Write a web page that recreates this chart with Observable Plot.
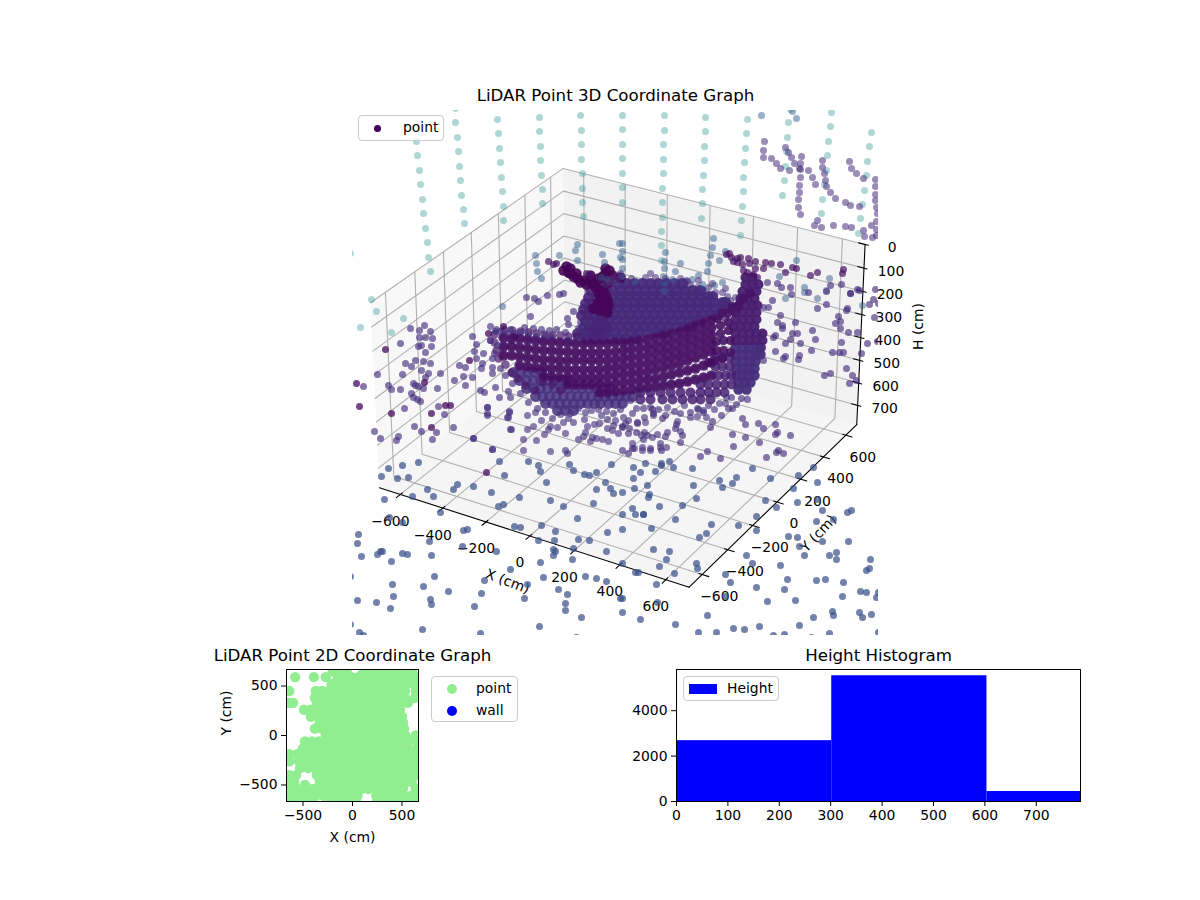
<!DOCTYPE html>
<html><head><meta charset="utf-8">
<script src="https://cdn.jsdelivr.net/npm/d3@7"></script>
<script src="https://cdn.jsdelivr.net/npm/@observablehq/plot@0.6"></script>
<style>
html,body{margin:0;padding:0;background:#fff;overflow:hidden}
#fig{position:relative;width:1200px;height:900px;font-family:"DejaVu Sans",sans-serif;font-size:13.9px;color:#000}
#fig>svg,#fig>div.p{position:absolute}
.lg{position:absolute;box-sizing:border-box;background:rgba(255,255,255,.8);border:1px solid #ccc;border-radius:4px}
.lg i{position:absolute;display:block}
.lg b{position:absolute;font-weight:normal;white-space:nowrap;line-height:16px}
</style></head><body><div id="fig"></div>
<script>
// ---------- histogram ----------
const histEdges = [0, 302, 604, 786];
const histCounts = [2680, 5540, 440];
const histXTicks = [0,100,200,300,400,500,600,700];
const histYTicks = [0,2000,4000];

// ---------- 2D scatter: rows of [Y, X values] in cm ----------
const rows2D = [
[650,[-200,-130,-60,110,180,250,320,390,460,530,600]],
[590,[-580,-390,-270,-150,-80,-10,60,130,200,270,340,410,480,550,640]],
[520,[-210,-140,-70,0,70,140,210,280,350,420,490,540,620]],
[450,[-640,-370,-310,-240,-170,-100,-30,40,110,180,250,320,390,460,530,640]],
[380,[-380,-310,-240,-170,-100,-30,40,110,180,250,320,390,460,530,630]],
[330,[-640,-600,-360,-290,-220,-150,-80,-10,60,130,200,270,340,410,480,560]],
[260,[-490,-420,-350,-280,-210,-140,-70,0,70,140,210,280,350,420,480]],
[190,[-420,-350,-280,-210,-140,-70,0,70,140,210,280,350,420,500]],
[130,[-330,-260,-190,-120,-50,20,90,160,230,300,370,440,510]],
[70,[-380,-310,-240,-170,-100,-30,40,110,180,250,320,390,460,520]],
[0,[-270,-200,-130,-60,10,80,150,220,290,360,430,500,535,640]],
[-60,[-480,-410,-340,-270,-200,-130,-60,10,80,150,220,290,360,430,500,570,660]],
[-130,[-500,-430,-360,-290,-220,-150,-80,-10,60,130,200,270,340,410,480,550,650]],
[-190,[-640,-560,-490,-420,-350,-280,-210,-140,-70,0,70,140,210,280,350,420,490,560,630]],
[-260,[-640,-540,-470,-400,-330,-260,-190,-120,-50,20,90,160,230,300,370,440,510,580,650]],
[-330,[-530,-450,-380,-310,-240,-170,-100,-30,40,110,180,250,320,390,460,530,600,660]],
[-400,[-640,-570,-360,-290,-220,-150,-80,-10,60,130,200,270,340,410,480,550,620,660]],
[-470,[-640,-590,-330,-300,-230,-160,-90,-20,50,120,190,260,330,400,470,540,600]],
[-500,[-480]],
[-540,[-650,-560,-480,-400,-330,-260,-190,-120,-50,20,90,160,230,300,370,440,510,640]],
[-610,[-640,-570,-500,-430,-370,-290,-220,-150,-80,-10,50,240,310,380,450,520,590,650]],
[-660,[-640,-570,-500,-430,-220,-150,-80,-10,40,250,320,390,460,530,600,660]]
];
const ticks2D = [-500,0,500];

// ---------- 3D frame ----------
const xTicks3D = [-600,-400,-200,0,200,400,600];
const yTicks3D = [-600,-400,-200,0,200,400,600];
const hTicks3D = [0,100,200,300,400,500,600,700];
const xLim3D = [-700,700], yLim3D = [-700,700], hLim3D = [786,0];

// ---------- 3D cloud, readings on the picture plane (page pixels) ----------
const tealColumns = [
[416,141],[417,155],[419,170],[420,184],[422,199],[423,213],[425,228],[427,242],[428,257],[430,271],
[455,108],[455,122],[457,137],[458,151],[459,166],[460,180],[461,195],[463,209],[464,223],
[497,119],[498,133],[499,148],[500,162],[501,177],[502,191],[503,206],[503,220],
[539,117],[539,131],[540,146],[540,160],[541,175],[542,189],[542,203],
[580,115],[581,130],[581,144],[581,159],[582,173],[582,188],[582,202],[583,216],
[622,115],[622,129],[622,144],[622,158],[622,173],[622,187],[622,202],
[664,115],[664,130],[663,144],[663,159],[663,173],[662,188],[662,202],[662,217],[661,231],[661,245],[661,260],
[705,117],[705,131],[704,146],[704,160],[703,175],[702,189],[702,203],[701,218],
[747,119],[746,133],[745,148],[744,162],[743,177],[743,191],[742,206],[741,220],[740,235],
[790,109],[788,122],[787,137],[786,151],[785,166],[784,180],[782,195],
[831,112],[830,126],[828,141],[827,155],[826,170],[824,184],[822,199],[821,213],
[871,132],[869,146],[867,161],[866,175],[864,190],[862,204],[860,218],[858,233],
[350,253],[371,299],[376,311],[403,318],[391,332],[360,327]];
const steelUpper = [
[577,244],[575,250],[559,255],[535,255],[602,254],[577,260],[536,263],[604,262],[537,271],[541,278],[619,243],[620,257],
[622,243],[622,251],[622,259],[622,268],[665,252],[664,261],[664,268],[663,276],[680,263],[675,271],[713,238],[712,247],
[710,255],[708,263],[707,271],[719,260],[698,275],[796,260],[725,251],[829,278],[779,276],[761,115],[792,111],[796,118],
[622,276],[664,283],[664,291],[601,277],[607,279],[635,281],[702,284],[692,279],[672,279],[714,285],[722,282],[502,306],
[785,298],[804,292],[817,298],[826,290],[804,287],[862,305]];
const purpleStrands = [
[764,141],[763,150],[763,157],[771,158],[776,163],[780,168],[789,170],[785,147],[788,152],[791,157],[794,163],[799,168],
[801,156],[800,163],[800,169],[800,177],[799,185],[799,192],[798,199],[798,207],[800,214],[808,170],[812,177],[815,184],
[822,160],[822,167],[824,173],[825,180],[826,186],[830,192],[835,198],[845,202],[850,205],[859,206],[849,161],[851,168],
[856,173],[863,178],[875,179],[875,186],[875,194],[875,200],[876,207],[877,213],[876,221],[817,220],[814,225],[821,227],
[833,225],[845,226],[851,227],[863,230],[864,236],[871,225],[876,229],[876,235],[872,237]];
const rimPurple = [
[726,254],[731,257],[740,257],[748,258],[755,261],[765,262],[771,263],[780,264],[785,272],[792,267],[796,268],[810,275],
[817,272],[842,273],[843,269],[733,261],[737,262],[742,264],[743,270],[747,272],[753,274],[757,277],[763,268],[755,268],[749,263],
[548,261],[553,264],[556,263],[586,273],[590,276],[729,253],[737,258]];
const leftScatter = [
[410,328],[424,325],[419,330],[430,331],[419,337],[425,337],[432,338],[400,343],[418,346],[421,345],[431,346],[425,352],
[415,360],[405,363],[411,366],[423,361],[430,363],[421,370],[428,373],[425,377],[402,374],[440,373],[413,383],[418,386],
[415,385],[423,388],[388,385],[391,389],[400,389],[437,388],[411,393],[413,397],[417,399],[420,401],[363,386],[404,408],
[438,406],[444,414],[421,431],[374,431],[380,438],[398,436],[396,440],[414,426],[436,432],[432,439],[453,427],[473,438],
[492,449],[377,374],[495,331],[472,336],[476,344],[474,351],[490,326],[496,329],[510,329],[514,333],[490,340],[490,340],
[476,358],[483,353],[494,353],[459,365],[465,367],[481,368],[482,363],[492,367],[492,373],[463,376],[472,377],[454,380],
[465,385],[480,390],[484,392],[495,387],[508,391],[499,397],[510,397],[487,407],[487,415],[509,412],[507,417],[510,429],
[526,297],[534,298],[538,301],[547,295],[559,294],[563,293],[573,311],[567,318],[580,322],[587,323],[578,328],[568,324],
[565,332],[568,340],[578,338],[581,330],[586,333],[530,316],
[500,331],[505,333],[520,332],[528,334],[536,336],[545,335],[551,337],[497,345],[492,358],[500,368],[505,375],[512,383],[520,393],[528,402],[537,408],[545,412],
[556,329],[549,330],[541,329],[533,328],[524,327]];
const dark3D = [[385,349],[356,383],[359,406],[391,413],[445,405],[450,405],[431,413],[431,427],[486,472],[424,382],[469,360],[488,333],[503,326],[514,336]];
const underBand = [
[527,415],[535,412],[541,420],[533,426],[552,418],[550,426],[557,427],[544,434],[548,429],[536,440],[523,439],[511,429],
[527,429],[508,417],[509,411],[487,407],[487,413],[473,438],[492,449],[523,450],[550,451],[565,450],[567,453],[565,433],
[578,439],[585,432],[583,436],[590,441],[592,437],[596,438],[602,439],[608,441],[587,426],[594,424],[599,423],[607,419],
[613,413],[623,417],[632,413],[573,422],[568,418],[563,422],[578,408],[585,412],[591,410],[598,409],[607,428],[613,425],
[622,426],[629,428],[637,423],[645,422],[653,415],[662,418],[644,432],[641,435],[652,437],[657,434],[660,443],[666,447],
[680,413],[698,409],[703,410],[677,421],[680,431],[642,447],[650,450],[660,447],[632,443],[634,448],[642,450],
[606,411],[615,420],[620,409],[628,420],[636,408],[644,417],[650,407],[658,409],[667,407],[674,411],[684,405],[690,417],
[697,416],[706,417],[714,409],[719,403],[725,403],[736,404],[560,414],[570,413],[584,419],[601,415],[612,430],[618,433]];
const rightScatter = [
[767,282],[777,283],[781,287],[790,287],[791,294],[808,292],[826,291],[830,285],[841,284],[850,293],[850,293],[859,290],
[857,289],[875,289],[873,299],[869,304],[878,303],[772,300],[768,307],[763,307],[780,315],[782,328],[777,322],[782,325],
[795,322],[812,330],[826,304],[817,308],[847,308],[846,310],[838,316],[835,323],[840,321],[840,328],[848,332],[857,332],
[874,317],[867,343],[877,341],[775,335],[773,337],[797,333],[792,333],[790,339],[785,343],[815,339],[800,343],[841,342],
[775,351],[783,358],[785,356],[799,355],[798,359],[811,350],[832,352],[839,352],[843,352],[861,353],[846,368],[830,373],
[824,375],[852,375],[856,380],[849,383],[762,347],[763,360],
[726,397],[731,397],[741,398],[747,399],[708,405],[703,412],[697,408],[690,412],[728,408],[721,415],[732,408],[712,421],
[710,427],[742,418],[745,424],[758,423],[763,428],[775,424],[777,432],[775,434],[790,435],[732,434],[745,437],[759,442],
[733,446],[776,452],[778,450],[783,453],[766,457],[707,451],[700,456],[720,458],[680,442],[682,435],[667,432],[665,436],
[650,448],[661,450],[632,448],[628,453],[622,450],[643,439],[628,433],[636,432],[647,435],[676,424],[675,428],[637,422],
[653,413],[665,415],[643,408],[652,409],[625,423],[622,427],[630,400]];
const floorScatter = [
[381,476],[388,468],[402,465],[418,462],[397,478],[408,477],[427,489],[412,496],[433,496],[384,499],[440,512],[453,489],
[457,484],[473,486],[491,492],[504,475],[499,461],[528,461],[538,465],[540,471],[569,464],[573,470],[546,482],[584,474],
[589,475],[596,472],[611,464],[605,482],[596,489],[610,488],[613,493],[593,503],[519,497],[550,500],[563,506],[498,506],
[503,504],[577,518],[514,526],[520,527],[541,525],[555,531],[538,540],[554,540],[578,539],[589,540],[607,532],[606,551],
[553,549],[555,551],[553,555],[573,548],[572,559],[540,562],[402,522],[389,517],[358,534],[357,543],[361,556],[377,554],
[380,551],[382,551],[391,561],[402,553],[407,554],[431,555],[429,541],[463,530],[467,529],[462,546],[496,551],[350,576],
[392,584],[434,576],[423,586],[448,591],[357,600],[376,602],[393,596],[390,608],[430,599],[431,604],[474,606],[481,593],
[484,580],[510,569],[543,577],[527,584],[524,598],[558,589],[567,594],[565,603],[565,610],[585,576],[596,578],[606,581],
[581,617],[539,626],[422,629],[480,633],[359,632],[363,635],[350,624],[576,637],[620,598],
[633,467],[645,463],[661,463],[661,465],[669,461],[673,467],[692,468],[640,472],[655,471],[633,478],[647,485],[634,488],
[622,492],[693,485],[719,480],[732,483],[736,477],[722,487],[770,478],[752,468],[798,475],[813,467],[817,482],[793,488],
[797,502],[765,500],[776,507],[817,499],[822,510],[847,512],[851,510],[833,519],[816,521],[649,494],[648,497],[696,498],
[682,505],[659,506],[632,508],[622,514],[635,514],[643,514],[643,514],[675,519],[622,529],[651,528],[711,524],[738,525],
[706,533],[699,537],[756,516],[756,530],[788,536],[797,537],[799,546],[822,541],[848,541],[804,555],[836,552],[829,555],
[836,559],[870,559],[866,570],[869,568],[653,549],[669,551],[666,559],[659,566],[674,573],[696,563],[697,568],[622,563],
[635,572],[638,572],[656,584],[725,574],[730,582],[746,555],[752,563],[780,565],[756,587],[784,589],[787,579],[816,580],
[825,579],[843,582],[860,591],[866,592],[842,596],[878,592],[876,597],[795,600],[767,601],[725,596],[657,602],[622,598],
[622,612],[640,619],[675,624],[707,615],[698,632],[716,632],[733,628],[744,629],[759,626],[799,625],[813,617],[832,611],
[833,615],[859,612],[862,617],[871,614],[773,635],[784,634],[811,637],[829,633],[878,632]];

// dense wall behind the band
const domeRows = [
[283,[618,626,634,642,650,658,666,674,682]],
[290,[606,612,620,628,636,644,652,660,668,676,684,692,700]],
[296,[606,612,620,628,636,644,652,660,668,676,684,692,700,708,712]],
[302,[604,610,618,626,634,642,650,658,666,674,682,690,698,706,714,722,725]],
[308,[602,610,618,626,634,642,650,658,666,674,682,690,698,706,714,722,730]],
[314,[600,606,614,622,630,638,646,654,662,670,678,686,694,702,710,718]],
[320,[600,608,616,624,632,640,648,656,664,672,680,688,696,700]],
[326,[596,604,612,620,628,636,644,652,660,668,676,684,690]],
[332,[590,598,606,614,622,630,638,646,654,662,665]],
[338,[585,593,601,609,617,625,635]]];
const domeRim = [
[617,279],[631,278],[645,277],[655,277],[665,278],[680,278],[686,280],[690,284],[697,287],[703,290],[708,287],[715,292],
[722,292],[727,296],[730,300],[735,297],[725,288],[687,281],[611,281],[605,284],[698,280],[712,283],[620,273],[650,273]];
const bodyRows = [
[290,[590,598]],[297,[588,596,604]],[303,[585,591,598]],[309,[583,589,595]],[315,[581,587,593,600]],[321,[585,591,597,603]],
[327,[583,589,595,601,607]],[333,[577,583,589,595,601]]];
const bandX = [503,511,519,527,535,543,551,559,567,575,583,591,599,607,615,623,631,639,647,655,663,671,679,687,695,703,711];
const bandRows = [
[337,338,338,339,340,341,341,342,342,343,343,343,343,343,342,342,341,340,339,337,335,333,331,328,325,322,319],
[346,346,347,348,349,350,350,351,351,352,352,352,352,352,351,350,349,348,347,345,343,341,339,336,333,330,327],
[355,355,356,357,358,359,359,360,360,360,360,360,360,360,359,358,357,356,355,353,351,349,347,344,341,338,335],
[null,null,365,366,367,367,368,368,369,369,369,369,369,368,367,366,365,364,363,361,359,357,355,352,349,346,343],
[null,null,null,null,null,376,376,377,377,377,377,377,377,376,375,374,373,372,371,369,367,365,363,360,357,354,351],
[null,null,null,null,null,null,null,null,384,384,384,384,384,384,383,382,381,380,379,378,376,374,372,370,368,365,362],
[null,null,null,null,null,null,null,null,null,null,null,null,392,392,391,390,389,388,387,386,385,384,383,381,379,377,375]];
const bandLeftEdge = [
[494,334],[494,342],[496,350],[498,358],[504,330],[512,330],[520,331],[528,332],[536,333],[544,334],[552,335],[560,335],
[568,336],[576,336],[505,364],[511,372],[517,378],[525,385],[535,390],[542,382],[552,384],[560,390],[735,312],[725,318]];
const lowerRightRows = [
[357,[715,722,729]],[366,[715,722,729]],[375,[718,725,731]],
[384,[700,708,716,724,731]],[392,[640,650,660,670,680,690,700,708,716,724]],[399,[640,650,662,672,682,692,700,710]]];
const cloudRows = [
[372,[513,520,527,534,541]],
[380,[519,526,533,540,547,554,561,568]],
[388,[526,533,540,547,554,561,568,575,582,589,596,603,610]],
[396,[535,542,549,556,563,570,577,584,591,598,605,612,619,625,632]],
[403,[545,552,559,566,573,580,587,594,600,608,615,622]],
[410,[557,565,573]]];
const columnRows = [
[277,[745,752]],[284,[745,752,758]],[291,[742,749,756]],[298,[740,747,754]],[305,[738,745,752,757]],
[312,[735,742,749,756]],[319,[735,742,749,756]],[326,[733,740,747,754]],[333,[735,742,749,756,762]],[340,[735,742,749,756,762]]];
const columnLowRows = [
[347,[735,742,749,756,760]],[354,[735,742,749,756,760]],[361,[735,742,749,755]],[368,[736,742,748,754]],
[375,[736,742,748,754]],[382,[738,744,750]],[389,[738,746]]];
const armPoints = [
[717,318],[727,313],[737,307],[743,298],[750,293],[722,312],[732,306],[740,300],[720,325],[728,322],[720,333],[728,330],
[716,341],[723,340],[730,340],[716,350],[723,350],[730,352],[722,358],[715,360],[708,362]];
const capPoints = [
[563,270],[570,273],[577,278],[583,280],[590,280],[598,278],[605,273],[609,270],[612,275],[620,277],[608,282],[602,285],
[595,287],[603,290],[598,293],[605,295],[600,298],[607,300],[597,303],[603,305],[608,305],[593,308],[600,310],[607,312],
[566,266],[568,272],[573,276],[586,284],[580,282],[593,283],[570,268],[576,273],[605,268],[602,276],[590,275]];

const shade = {teal:.5, steel:.3, blue:.22, mid:.14, purple:.08, dark:.0};
const rowsToPoints = rows => rows.flatMap(([y,xs]) => xs.map(x => [x,y]));
const bandPoints = bandRows.flatMap(r => r.flatMap((y,i) => y==null ? [] : [[bandX[i],y]]));
const groups = [
  [tealColumns, shade.teal, .36, 3.5],
  [steelUpper, shade.steel, .5, 3.5],
  [domeRim, shade.mid, .55, 3.5],
  [rowsToPoints(domeRows), .12, .95, 5.6],
  [rowsToPoints(bodyRows), .1, .9, 5.4],
  [rowsToPoints(cloudRows), .14, .85, 5.4],
  [purpleStrands, shade.mid-.01, .55, 3.5],
  [rimPurple, shade.purple-.03, .7, 3.5],
  [leftScatter, shade.mid, .65, 3.5],
  [rightScatter, shade.mid-.01, .65, 3.5],
  [underBand, shade.mid, .62, 3.5],
  [floorScatter, shade.blue+.03, .72, 3.5],
  [rowsToPoints(columnLowRows), .13, .95, 5.2],
  [rowsToPoints(columnRows), shade.purple, .95, 5],
  [rowsToPoints(lowerRightRows), .09, .85, 5],
  [armPoints, shade.purple-.03, .9, 4.6],
  [bandLeftEdge, .07, .7, 4.2],
  [bandPoints, .06, .9, 5.2],
  [bandPoints, .0, .4, 3.5],
  [capPoints, shade.dark+.01, .9, 5.2],
  [dark3D, shade.dark+.03, .75, 3.5]
];
const cloud = groups.flatMap(([pts,t,a,r]) => pts.map(([px,py]) => ({px,py,t,a,r})));

// ---------- camera ----------
const rad = Math.PI/180, el = 29*rad, az = -59.5*rad;
const box = [1.2476,1.2476,0.735];
const eyeDir = [Math.cos(el)*Math.cos(az), Math.cos(el)*Math.sin(az), Math.sin(el)];
const centre = box.map(b=>b/2), eye = centre.map((c,i)=>c+10*eyeDir[i]);
const cross = (a,b)=>[a[1]*b[2]-a[2]*b[1],a[2]*b[0]-a[0]*b[2],a[0]*b[1]-a[1]*b[0]];
const dot3 = (a,b)=>a[0]*b[0]+a[1]*b[1]+a[2]*b[2];
let uu = cross([0,0,1],eyeDir); const ul=Math.hypot(...uu); uu=uu.map(v=>v/ul);
const vv = cross(eyeDir,uu);
function project(X,Y,H){
  const p=[(X-xLim3D[0])/(xLim3D[1]-xLim3D[0])*box[0],(Y-yLim3D[0])/(yLim3D[1]-yLim3D[0])*box[1],(H-hLim3D[0])/(hLim3D[1]-hLim3D[0])*box[2]];
  const d=p.map((c,i)=>c-eye[i]), w=-dot3(d,eyeDir);
  return [352+(dot3(d,uu)/w+.095)/.185*526, 635-(dot3(d,vv)/w+.095)/.185*525];
}
const [x0,x1]=xLim3D,[y0,y1]=yLim3D,[hB,hT]=hLim3D;
const panes = [
 {f:"rgba(242,242,242,.5)",c:[[x0,y0,hB],[x0,y1,hB],[x0,y1,hT],[x0,y0,hT]]},
 {f:"rgba(230,230,230,.5)",c:[[x0,y1,hB],[x1,y1,hB],[x1,y1,hT],[x0,y1,hT]]},
 {f:"rgba(236,236,236,.5)",c:[[x0,y0,hB],[x1,y0,hB],[x1,y1,hB],[x0,y1,hB]]}
].flatMap((p,i)=>p.c.map(c=>{const [px,py]=project(...c);return{px,py,i,f:p.f};}));
const gridLines = [
 ...xTicks3D.map(t=>[[t,y0,hB],[t,y1,hB],[t,y1,hT]]),
 ...yTicks3D.map(t=>[[x0,t,hT],[x0,t,hB],[x1,t,hB]]),
 ...hTicks3D.map(t=>[[x0,y0,t],[x0,y1,t],[x1,y1,t]])
].flatMap((l,i)=>l.map(c=>{const [px,py]=project(...c);return{px,py,i};}));
const axisLines = [[[x0,y0,hB],[x1,y0,hB]],[[x1,y0,hB],[x1,y1,hB]],[[x1,y1,hB],[x1,y1,hT]]]
 .flatMap((l,i)=>l.map(c=>{const [px,py]=project(...c);return{px,py,i};}));
const tickMarks = [
 ...xTicks3D.map(t=>[[t,y0-28,hB],[t,y0+14,hB]]),
 ...yTicks3D.map(t=>[[x1+28,t,hB],[x1-14,t,hB]]),
 ...hTicks3D.map(t=>[[x1-28,y1,t],[x1+14,y1,t]])
].flatMap((l,i)=>l.map(c=>{const [px,py]=project(...c);return{px,py,i};}));
const fmt = d3.format("d");
const tickLabels = [
 ...xTicks3D.map(t=>{const [a,b]=project(t,y0,hB);return{px:a-10,py:b+27,s:fmt(t)}}),
 ...yTicks3D.map(t=>{const [a,b]=project(x1,t,hB);return{px:a+17,py:b+22,s:fmt(t)}}),
 ...hTicks3D.map(t=>{const [a,b]=project(x1,y1,t);return{px:a+27,py:b+3,s:fmt(t)}})
];
const fig = document.getElementById("fig");
const FONT = '"DejaVu Sans",sans-serif';

// ---------- main 3D panel ----------
const main = Plot.plot({
  width:1200,height:900,marginLeft:352,marginRight:322,marginTop:110,marginBottom:265,
  style:{fontFamily:FONT,background:"transparent",overflow:"visible"},
  x:{domain:[352,878],axis:null}, y:{domain:[635,110],axis:null},
  color:{type:"linear",scheme:"viridis",domain:[0,1]},
  r:{type:"identity"},
  marks:[
    Plot.line(panes,{x:"px",y:"py",z:"i",fill:"f",stroke:"none",curve:"linear-closed"}),
    Plot.line(gridLines,{x:"px",y:"py",z:"i",stroke:"#b0b0b0",strokeWidth:1.1}),
    Plot.line(axisLines,{x:"px",y:"py",z:"i",stroke:"#000",strokeWidth:1.1}),
    Plot.line(tickMarks,{x:"px",y:"py",z:"i",stroke:"#000",strokeWidth:1.1}),
    Plot.text(tickLabels,{x:"px",y:"py",text:"s",fontSize:13.9,fill:"#000"}),
    Plot.text(["X (cm)"],{x:[507],y:[581],rotate:21,fontSize:13.9,fill:"#000"}),
    Plot.text(["Y (cm)"],{x:[818],y:[533],rotate:-47,fontSize:13.9,fill:"#000"}),
    Plot.text(["H (cm)"],{x:[918],y:[326],rotate:-90,fontSize:13.9,fill:"#000"}),
    Plot.dot(cloud,{x:"px",y:"py",r:"r",fill:"t",fillOpacity:"a",stroke:null,clip:"frame"}),
    Plot.text(["LiDAR Point 3D Coordinate Graph"],{x:[615],y:[95],fontSize:16.67,fill:"#000"})
  ]
});
main.style.left="0";main.style.top="0";fig.appendChild(main);

// ---------- 2D panel ----------
const scatter2D = rows2D.flatMap(([Y,xs])=>xs.map(X=>({X,Y})));
const plot2D = Plot.plot({
  width:330,height:220,marginLeft:86,marginRight:112,marginTop:29,marginBottom:59,
  style:{fontFamily:FONT,background:"transparent",overflow:"visible"},
  x:{domain:[-667,667]},y:{domain:[-667,667]},
  marks:[
    Plot.dot(scatter2D,{x:"X",y:"Y",r:5.2,fill:"#90ee90",clip:"frame"}),
    Plot.frame({stroke:"#000",strokeWidth:1}),
    Plot.axisX({ticks:ticks2D,tickSize:5,tickPadding:4,fontSize:13.9,label:null,stroke:"#000",fill:"#000"}),
    Plot.axisY({ticks:ticks2D,tickSize:5,tickPadding:4,fontSize:13.9,label:null,stroke:"#000",fill:"#000"}),
    Plot.text(["X (cm)"],{frameAnchor:"bottom",dy:40,fontSize:13.9,fill:"#000"}),
    Plot.text(["Y (cm)"],{frameAnchor:"left",dx:-60,rotate:-90,fontSize:13.9,fill:"#000"}),
    Plot.text(["LiDAR Point 2D Coordinate Graph"],{frameAnchor:"top",dy:-20,fontSize:16.67,fill:"#000"})
  ]
});
plot2D.style.left="200px";plot2D.style.top="640px";fig.appendChild(plot2D);

// ---------- histogram panel ----------
const histBars = histCounts.map((c,i)=>({x1:histEdges[i],x2:histEdges[i+1],c}));
const hist = Plot.plot({
  width:480,height:220,marginLeft:66,marginRight:10,marginTop:29,marginBottom:59,
  style:{fontFamily:FONT,background:"transparent",overflow:"visible"},
  x:{domain:[0,786]},y:{domain:[0,5815]},
  marks:[
    Plot.rectY(histBars,{x1:"x1",x2:"x2",y:"c",fill:"#0000ff",inset:0}),
    Plot.frame({stroke:"#000",strokeWidth:1}),
    Plot.axisX({ticks:histXTicks,tickSize:5,tickPadding:4,tickFormat:fmt,fontSize:13.9,label:null,stroke:"#000",fill:"#000"}),
    Plot.axisY({ticks:histYTicks,tickSize:5,tickPadding:4,tickFormat:fmt,fontSize:13.9,label:null,stroke:"#000",fill:"#000"}),
    Plot.text(["Height Histogram"],{frameAnchor:"top",dy:-20,fontSize:16.67,fill:"#000"})
  ]
});
hist.style.left="610px";hist.style.top="640px";fig.appendChild(hist);

// ---------- legends ----------
function legend(l,t,w,h,items){
  const d=document.createElement("div");d.className="lg";
  d.style.cssText=`left:${l}px;top:${t}px;width:${w}px;height:${h}px`;
  items.forEach(it=>{
    const m=document.createElement("i");
    m.style.cssText=`left:${it.mx}px;top:${it.my}px;width:${it.mw}px;height:${it.mh}px;background:${it.c};border-radius:${it.round?"50%":"0"}`;
    const b=document.createElement("b");b.textContent=it.s;
    b.style.cssText=`left:${it.tx}px;top:${it.ty}px`;
    d.append(m,b);
  });
  fig.appendChild(d);
}
legend(358,115,86,26,[{s:"point",c:"#440154",round:1,mx:15,my:9,mw:7,mh:7,tx:44,ty:3}]);
legend(431,676,87,46,[
  {s:"point",c:"#90ee90",round:1,mx:15,my:7,mw:10,mh:10,tx:44,ty:3},
  {s:"wall",c:"#0000ff",round:1,mx:15,my:29,mw:10,mh:10,tx:44,ty:25}]);
legend(683,676,96,25,[{s:"Height",c:"#0000ff",mx:5,my:7,mw:28,mh:10,tx:43,ty:3}]);
</script></body></html>
